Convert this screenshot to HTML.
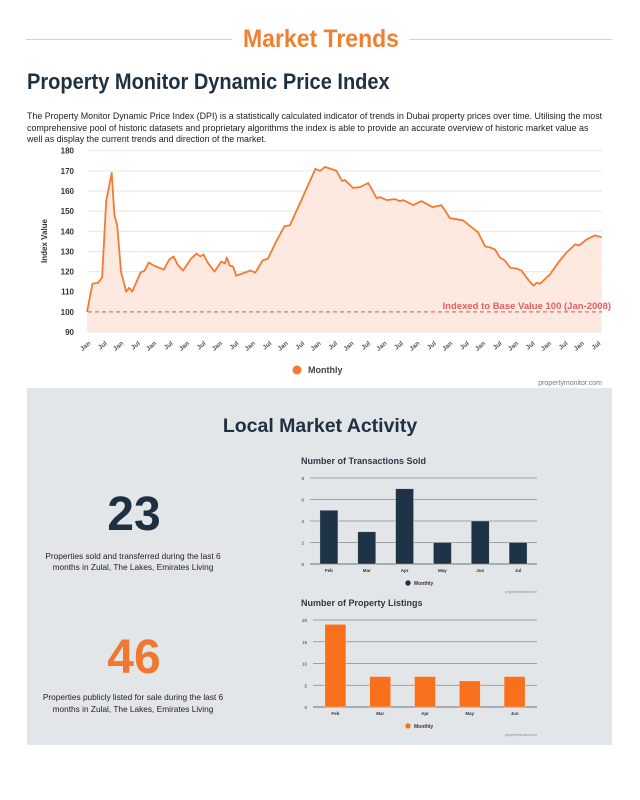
<!DOCTYPE html>
<html><head><meta charset="utf-8"><style>
body{margin:0;width:640px;height:800px;background:#fff;font-family:"Liberation Sans",sans-serif;overflow:hidden;position:relative}
.a{position:absolute}
</style></head><body>
<div class="a" style="left:26px;top:39px;width:206px;height:1px;background:#f9c8a3"></div>
<div class="a" style="left:409px;top:39px;width:203px;height:1px;background:#f9c8a3"></div>
<div class="a" style="left:221px;top:25px;width:200px;text-align:center;font-size:25px;font-weight:bold;color:#f08030;transform:scaleX(0.92)">Market Trends</div>
<div class="a" style="left:27px;top:69px;font-size:22px;font-weight:bold;color:#1f3040;transform:scaleX(0.91);transform-origin:0 0">Property Monitor Dynamic Price Index</div>
<div class="a" style="left:27px;top:111px;white-space:nowrap;font-size:8.9px;line-height:11.5px;color:#222">The Property Monitor Dynamic Price Index (DPI) is a statistically calculated indicator of trends in Dubai property prices over time. Utilising the most<br>comprehensive pool of historic datasets and proprietary algorithms the index is able to provide an accurate overview of historic market value as<br>well as display the current trends and direction of the market.</div>

<svg class="a" style="left:0;top:0" width="640" height="800" id="main">
<rect x="27" y="388" width="585" height="357" fill="#e3e6e9"/>
<text x="320" y="432" text-anchor="middle" font-size="19.5" font-weight="bold" fill="#1f3040">Local Market Activity</text>
<text x="134" y="530" text-anchor="middle" font-size="48" font-weight="bold" fill="#1f3040">23</text>
<text x="133" y="559" text-anchor="middle" font-size="8.3" fill="#222">Properties sold and transferred during the last 6</text>
<text x="133" y="570" text-anchor="middle" font-size="8.3" fill="#222">months in Zulal, The Lakes, Emirates Living</text>
<text x="134" y="673" text-anchor="middle" font-size="48" font-weight="bold" fill="#f07830">46</text>
<text x="133" y="700" text-anchor="middle" font-size="8.3" fill="#222">Properties publicly listed for sale during the last 6</text>
<text x="133" y="712" text-anchor="middle" font-size="8.3" fill="#222">months in Zulal, The Lakes, Emirates Living</text>
<g id="line"></g><g id="bar1"></g><g id="bar2"></g>
</svg>
<script>
const months=[0,2,4,5.5,7,9,10,11,12.4,14.3,15.4,16.5,19.5,21,22.5,24.3,28,30,31.6,33,35,38,40,41.3,42.5,44,46.5,49,50.3,51,52,53.3,54.4,59.6,61.4,64,66,69,72,74,78,82,83.3,85,86.8,91,93,94,95.2,97,99.6,102.6,105.6,106.8,109.3,112.3,114,115.3,119,122,126,129.3,132.4,137,140.3,142.6,145.2,147,148.8,150.6,152.4,154.3,156.7,158.5,160.3,162.8,164,165.2,168.8,171.9,174.9,178,179.5,182.2,185.3,187.7];
const values=[100,114,114.5,117,155,169,148,143,120,110,112,110,119.5,120.5,124.5,123,121,126,127.5,123.5,120.5,126.5,129,127.5,128.5,124.5,120,125,124,127,123,122.5,118,120.5,119.5,125.5,126.5,135,142.5,143,155,167,171,170,172,170,165,165.5,164,161.5,162,164,156.5,157,155.5,156,155,155.5,153,155,152,153,146.5,145.5,142,139.5,132.5,132,131,127,125.5,122,121.5,120.5,117,113,114.5,114,118.5,124.5,129.5,133.5,133,136,138,137];
const yTicks=[90,100,110,120,130,140,150,160,170,180];
const xTickLabels=[];for(let i=0;i<32;i++)xTickLabels.push(i%2?"Jul":"Jan");
const baseValue=100;
const ns="http://www.w3.org/2000/svg";
function mk(t,a,p){const e=document.createElementNS(ns,t);for(const k in a)e.setAttribute(k,a[k]);p.appendChild(e);return e}
const X=m=>87+m*2.742, Y=v=>332-(v-90)*2.014;
const L=document.getElementById('line');
yTicks.forEach(v=>{
 const g=mk('line',{x1:88,x2:602,y1:Y(v),y2:Y(v),stroke:'#e6e6e6','stroke-width':1},L);
 
 
 const t=mk('text',{x:74,y:Y(v)+3,'text-anchor':'end','font-size':8,'font-weight':'bold',fill:'#333'},L);t.textContent=v;
 
 
});
xTickLabels.forEach((s,i)=>{
 const x=X(i*6);
 const t=mk('text',{x:x+4,y:344,'text-anchor':'end','font-size':6.5,'font-weight':'bold',fill:'#555',transform:`rotate(-40 ${x+4} 344)`},L);t.textContent=s;
 
 
});
const yt=mk('text',{x:47,y:241,'text-anchor':'middle','font-size':8,'font-weight':'bold',fill:'#333',transform:'rotate(-90 47 241)'},L);yt.textContent='Index Value';


let d=months.map((m,i)=>(i?'L':'M')+X(m).toFixed(1)+','+Y(values[i]).toFixed(1)).join('');
const area=mk('path',{d:d+`L${X(months[months.length-1])},${Y(90)}L${X(0)},${Y(90)}Z`,fill:'#fde9df'},L);


const bl=mk('line',{x1:88,x2:602,y1:Y(baseValue),y2:Y(baseValue),stroke:'#e87070','stroke-width':1.2,'stroke-dasharray':'4,3'},L);


const bt=mk('text',{x:611,y:Y(baseValue)-3,'text-anchor':'end','font-size':9.5,'font-weight':'bold',fill:'#e06060'},L);bt.textContent='Indexed to Base Value 100 (Jan-2008)';


const ln=mk('path',{d:d,fill:'none',stroke:'#f47a30','stroke-width':1.8,'stroke-linejoin':'round'},L);


const lc=mk('circle',{cx:297,cy:370,r:4.5,fill:'#f47a30'},L);


const lt=mk('text',{x:308,y:373,'font-size':9,'font-weight':'bold',fill:'#444'},L);lt.textContent='Monthly';


const wm=mk('text',{x:602,y:385,'text-anchor':'end','font-size':7,fill:'#777'},L);wm.textContent='propertymonitor.com';



const soldMonths=["Feb","Mar","Apr","May","Jun","Jul"];
const soldValues=[5,3,7,2,4,2];
const soldTicks=[0,2,4,6,8];
const listMonths=["Feb","Mar","Apr","May","Jun"];
const listValues=[19,7,7,6,7];
const listTicks=[0,5,10,15,20];
function bars(id,title,cats,vals,ticks,top,bot,x0,x1,color,bw){
 const G=document.getElementById(id);const max=ticks[ticks.length-1];
 const y=v=>bot-(v/max)*(bot-top);
 const tt=mk('text',{x:301,y:top-14,'font-size':9,'font-weight':'bold',fill:'#2a3a48'},G);tt.textContent=title;
 
 
 ticks.forEach(v=>{
  const l=mk('line',{x1:x0,x2:x1,y1:y(v),y2:y(v),stroke:'#888','stroke-width':v?0.8:1.2},G);
  
  
  const t=mk('text',{x:x0-6,y:y(v)+2,'text-anchor':'end','font-size':4.5,fill:'#333'},G);t.textContent=v;
  
  
 });
 const step=(x1-x0)/cats.length;
 cats.forEach((c,i)=>{
  const cx=x0+step*(i+0.5);
  const r=mk('rect',{x:cx-bw/2,y:y(vals[i]),width:bw,height:bot-y(vals[i]),fill:color,stroke:'#fff','stroke-opacity':0.5,'stroke-width':0.6},G);
  
  
  const t=mk('text',{x:cx,y:bot+8,'text-anchor':'middle','font-size':4.5,'font-weight':'bold',fill:'#333'},G);t.textContent=c;
  
  
 });
 const c=mk('circle',{cx:408,cy:bot+19,r:2.7,fill:color},G);
 
 
 const t=mk('text',{x:414,y:bot+21,'font-size':5,'font-weight':'bold',fill:'#333'},G);t.textContent='Monthly';
 
 
 const w=mk('text',{x:537,y:bot+29,'text-anchor':'end','font-size':3.5,fill:'#888'},G);w.textContent='propertymonitor.com';
 
 
}
bars('bar1','Number of Transactions Sold',soldMonths,soldValues,soldTicks,478,564,310,537,'#1e3345',18);
bars('bar2','Number of Property Listings',listMonths,listValues,listTicks,620,707,313,537,'#f86f1c',21);
</script>
</body></html>
